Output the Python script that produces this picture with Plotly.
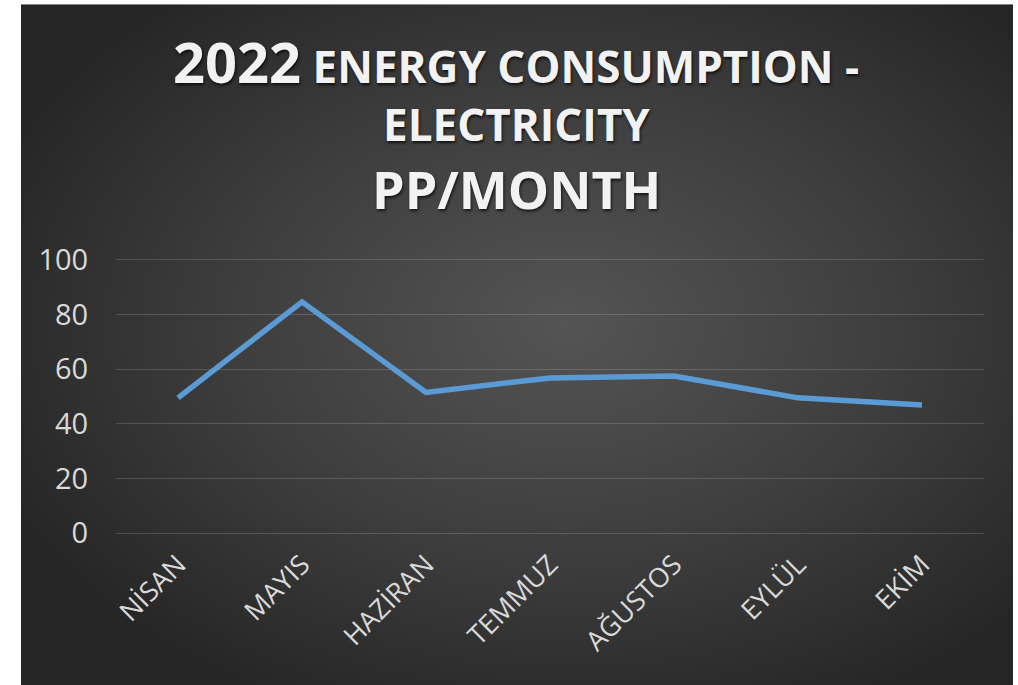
import base64
import plotly.graph_objects as go

months = ["NİSAN", "MAYIS", "HAZİRAN", "TEMMUZ", "AĞUSTOS", "EYLÜL", "EKİM"]
consumption = [49.5, 84.6, 51.5, 56.8, 57.5, 49.5, 46.9]
y_ticks = [0, 20, 40, 60, 80, 100]

FONT = "Open Sans"

svg = (
    "<svg xmlns='http://www.w3.org/2000/svg' width='992' height='680' viewBox='0 0 992 680' "
    "preserveAspectRatio='none'><defs><radialGradient id='g' cx='0.55' cy='0.47' r='0.62'>"
    "<stop offset='0' stop-color='#545454'/><stop offset='0.55' stop-color='#3d3d3d'/>"
    "<stop offset='1' stop-color='#262626'/></radialGradient></defs>"
    "<rect width='992' height='680' fill='url(#g)'/></svg>"
)
bg_src = "data:image/svg+xml;base64," + base64.b64encode(svg.encode()).decode()

W, H = 1018, 685
PPU = 2.73  # pixels per y unit
PAD = 1.0   # y range padding (units) so edge gridlines are drawn
ml, mr = 116, 34
mt = 260 - PAD * PPU
mb = H - 533 - PAD * PPU
pw, ph = W - ml - mr, H - mt - mb


def px2x(px):
    return (px - ml) / pw


def py2y(py):
    return (H - mb - py) / ph


fig = go.Figure()
fig.add_trace(go.Scatter(
    x=months, y=consumption, mode="lines",
    line=dict(color="#5b9bd5", width=5.5, shape="linear"),
    hoverinfo="x+y",
))

shadow = "1px 2px 3px rgba(0,0,0,0.7)"
annos = [
    dict(text="<b><span style='font-size:56px'>2022</span> ENERGY CONSUMPTION -</b>", y=py2y(62), size=44),
    dict(text="<b>ELECTRICITY</b>", y=py2y(125), size=44),
    dict(text="<b>PP/MONTH</b>", y=py2y(189), size=52),
]
for a in annos:
    fig.add_annotation(
        text=a["text"], xref="paper", yref="paper", x=px2x(516), y=a["y"],
        xanchor="center", yanchor="middle", showarrow=False,
        font=dict(family=FONT, size=a["size"], color="#f2f2f2", shadow=shadow),
    )

fig.add_layout_image(dict(
    source=bg_src, xref="paper", yref="paper",
    x=px2x(21), y=py2y(5), sizex=(1013 - 21) / pw, sizey=(685 - 5) / ph,
    xanchor="left", yanchor="top", sizing="stretch", layer="below",
))

fig.update_layout(
    width=W, height=H,
    margin=dict(l=ml, r=mr, t=mt, b=mb, autoexpand=False),
    paper_bgcolor="white", plot_bgcolor="rgba(0,0,0,0)",
    showlegend=False,
    xaxis=dict(
        type="category", range=[-0.5, 6.5], showgrid=False, zeroline=False,
        showline=False, tickangle=-45, ticks="outside", ticklen=1,
        tickcolor="rgba(0,0,0,0)",
        tickfont=dict(family=FONT, size=27, color="#d9d9d9"),
    ),
    yaxis=dict(
        range=[-PAD, 100 + PAD], tickvals=y_ticks, showgrid=True,
        gridcolor="rgba(255,255,255,0.16)", gridwidth=1, zeroline=False,
        showline=False, ticks="outside", ticklen=21, tickcolor="rgba(0,0,0,0)",
        tickfont=dict(family=FONT, size=29, color="#d9d9d9"),
    ),
)

fig.write_html(
    "out.html",
    config={"displayModeBar": False},
    post_script="document.body.style.margin='0';",
)
